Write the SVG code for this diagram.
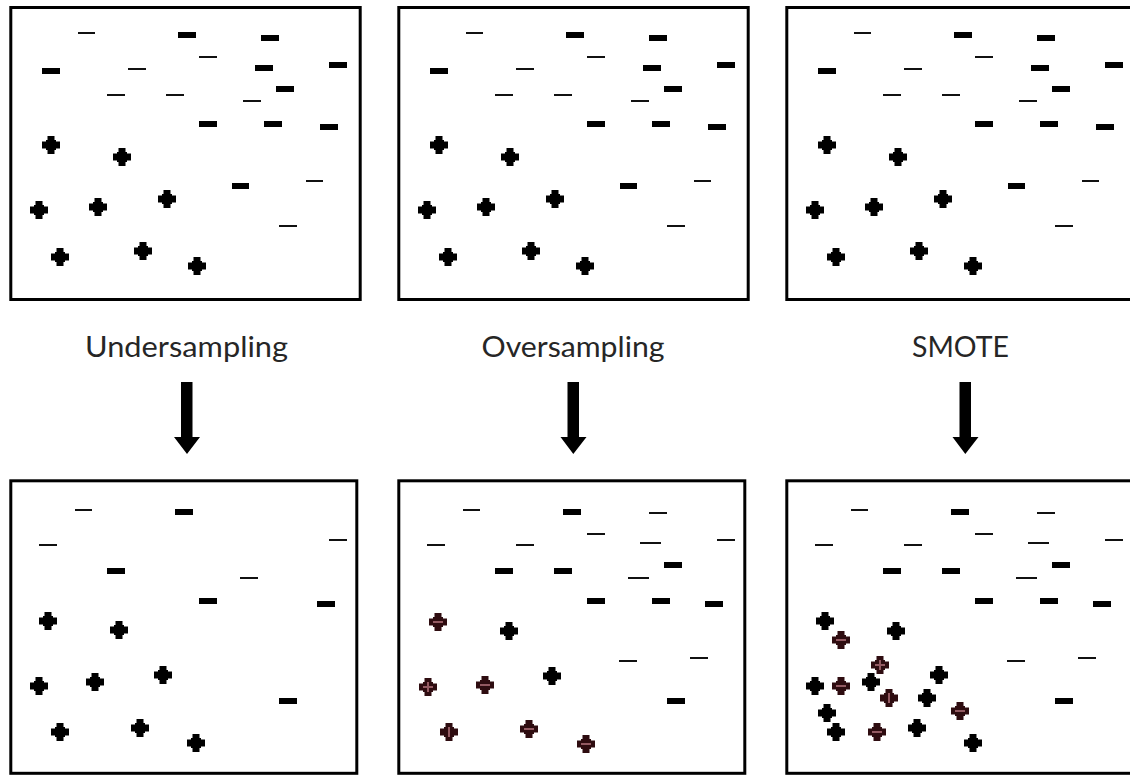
<svg xmlns="http://www.w3.org/2000/svg" xmlns:xlink="http://www.w3.org/1999/xlink" width="1130" height="776" viewBox="0 0 1130 776">
<style>
.frame{fill:#fff;stroke:#000;stroke-width:3}
.tn{fill:#111}
.tk{fill:#000}
.lbl{font-family:Lato,"Open Sans","Liberation Sans",sans-serif;font-size:29.5px;fill:#262626;text-anchor:middle}
.arrow{fill:#000}
.inner{stroke:#935a62;stroke-width:2;fill:none}
</style>
<defs>
<path id="plus" d="M-3.5,-9h7v4h1.5v1.5h4v7h-4v1.5h-1.5v4h-7v-4h-1.5v-1.5h-4v-7h4v-1.5h1.5z" fill="#000"/>
<path id="rplus" d="M-3.5,-9h7v4h1.5v1.5h4v7h-4v1.5h-1.5v4h-7v-4h-1.5v-1.5h-4v-7h4v-1.5h1.5z" fill="#2e0c10"/>
<g id="topSet">
<rect class="tn" x="78" y="32" width="17" height="2"/>
<rect class="tk" x="178" y="32" width="18" height="6"/>
<rect class="tk" x="261" y="35" width="18" height="6"/>
<rect class="tn" x="199" y="56" width="18" height="2"/>
<rect class="tk" x="42" y="68" width="18" height="6"/>
<rect class="tn" x="128" y="68" width="18" height="2"/>
<rect class="tk" x="255" y="65" width="18" height="6"/>
<rect class="tk" x="329" y="62" width="18" height="6"/>
<rect class="tk" x="276" y="86" width="18" height="6"/>
<rect class="tn" x="107" y="94" width="18" height="2"/>
<rect class="tn" x="166" y="94" width="18" height="2"/>
<rect class="tn" x="243" y="100" width="18" height="2"/>
<rect class="tk" x="199" y="121" width="18" height="6"/>
<rect class="tk" x="264" y="121" width="18" height="6"/>
<rect class="tk" x="320" y="124" width="18" height="6"/>
<rect class="tk" x="232" y="183" width="17" height="6"/>
<rect class="tn" x="306" y="180" width="17" height="2"/>
<rect class="tn" x="279" y="225" width="18" height="2"/>
<use xlink:href="#plus" x="51" y="145"/>
<use xlink:href="#plus" x="122" y="157"/>
<use xlink:href="#plus" x="39" y="210"/>
<use xlink:href="#plus" x="98" y="207"/>
<use xlink:href="#plus" x="167" y="199"/>
<use xlink:href="#plus" x="60" y="257"/>
<use xlink:href="#plus" x="143" y="251"/>
<use xlink:href="#plus" x="197" y="266"/>
</g>
<g id="botMinus">
<rect class="tn" x="463" y="509" width="17" height="2"/>
<rect class="tk" x="563" y="509" width="18" height="6"/>
<rect class="tn" x="649" y="512" width="18" height="2"/>
<rect class="tn" x="587" y="533" width="18" height="2"/>
<rect class="tn" x="427" y="544" width="18" height="2"/>
<rect class="tn" x="516" y="544" width="18" height="2"/>
<rect class="tn" x="640" y="542" width="21" height="2"/>
<rect class="tn" x="717" y="539" width="18" height="2"/>
<rect class="tk" x="664" y="562" width="18" height="6"/>
<rect class="tk" x="495" y="568" width="18" height="6"/>
<rect class="tk" x="554" y="568" width="18" height="6"/>
<rect class="tn" x="628" y="577" width="21" height="2"/>
<rect class="tk" x="587" y="598" width="18" height="6"/>
<rect class="tk" x="652" y="598" width="18" height="6"/>
<rect class="tk" x="705" y="601" width="18" height="6"/>
<rect class="tn" x="619" y="660" width="18" height="2"/>
<rect class="tn" x="690" y="657" width="18" height="2"/>
<rect class="tk" x="667" y="698" width="18" height="6"/>
</g>
</defs>

<g id="panel-original-1">
<rect class="frame" x="10.8" y="7.5" width="349.4" height="292"/>
<use xlink:href="#topSet"/>
</g>
<g id="panel-original-2">
<rect class="frame" x="398.8" y="7.5" width="349.4" height="292"/>
<use xlink:href="#topSet" transform="translate(388,0)"/>
</g>
<g id="panel-original-3">
<rect class="frame" x="786.8" y="7.5" width="349.4" height="292"/>
<use xlink:href="#topSet" transform="translate(776,0)"/>
</g>

<g id="labels">
<text class="lbl" x="186.5" y="357" textLength="203" lengthAdjust="spacingAndGlyphs">Undersampling</text>
<text class="lbl" x="573" y="357" textLength="183" lengthAdjust="spacingAndGlyphs">Oversampling</text>
<text class="lbl" x="960.5" y="357" textLength="97" lengthAdjust="spacingAndGlyphs">SMOTE</text>
</g>

<g id="connectors">
<polygon class="arrow" points="181,382 192.5,382 192.5,437 200,437 187,454 174,437 181,437"/>
<polygon class="arrow" points="567.5,382 579,382 579,437 586.5,437 573.3,454 560.5,437 567.5,437"/>
<polygon class="arrow" points="959.5,382 971,382 971,437 978.5,437 965.3,454 952.5,437 959.5,437"/>
</g>

<g id="panel-undersampling">
<rect class="frame" x="10.8" y="480.8" width="346" height="292.5"/>
<rect class="tn" x="75" y="509" width="17" height="2"/>
<rect class="tk" x="175" y="509" width="18" height="6"/>
<rect class="tn" x="39" y="544" width="18" height="2"/>
<rect class="tn" x="329" y="539" width="18" height="2"/>
<rect class="tk" x="107" y="568" width="18" height="6"/>
<rect class="tn" x="240" y="577" width="18" height="2"/>
<rect class="tk" x="199" y="598" width="18" height="6"/>
<rect class="tk" x="317" y="601" width="18" height="6"/>
<rect class="tk" x="279" y="698" width="18" height="6"/>
<use xlink:href="#plus" x="48" y="621"/>
<use xlink:href="#plus" x="119" y="630"/>
<use xlink:href="#plus" x="39" y="686"/>
<use xlink:href="#plus" x="95" y="682"/>
<use xlink:href="#plus" x="163" y="675"/>
<use xlink:href="#plus" x="60" y="732"/>
<use xlink:href="#plus" x="140" y="728"/>
<use xlink:href="#plus" x="196" y="743"/>
</g>

<g id="panel-oversampling">
<rect class="frame" x="398.8" y="480.8" width="346" height="292.5"/>
<use xlink:href="#botMinus"/>
<use xlink:href="#plus" x="509" y="631"/>
<use xlink:href="#plus" x="552" y="676"/>
<use xlink:href="#rplus" x="438" y="622"/><path class="inner" d="M433,622h10"/>
<use xlink:href="#rplus" x="428" y="687"/><path class="inner" d="M423,687h10M428,682v10"/>
<use xlink:href="#rplus" x="485" y="685"/><path class="inner" d="M480,685h10"/>
<use xlink:href="#rplus" x="449" y="732"/><path class="inner" d="M449,727v10"/>
<use xlink:href="#rplus" x="529" y="729"/><path class="inner" d="M524,729h10"/>
<use xlink:href="#rplus" x="586" y="744"/><path class="inner" d="M581,744h10"/>
</g>

<g id="panel-smote">
<rect class="frame" x="786.8" y="480.8" width="346" height="292.5"/>
<use xlink:href="#botMinus" transform="translate(388,0)"/>
<use xlink:href="#plus" x="825" y="621"/>
<use xlink:href="#plus" x="896" y="631"/>
<use xlink:href="#plus" x="815" y="686"/>
<use xlink:href="#plus" x="871" y="682"/>
<use xlink:href="#plus" x="939" y="675"/>
<use xlink:href="#plus" x="927" y="698"/>
<use xlink:href="#plus" x="827" y="713"/>
<use xlink:href="#plus" x="836" y="732"/>
<use xlink:href="#plus" x="917" y="728"/>
<use xlink:href="#plus" x="973" y="743"/>
<use xlink:href="#rplus" x="841" y="640"/><path class="inner" d="M836,640h10"/>
<use xlink:href="#rplus" x="880" y="665"/><path class="inner" d="M875,665h10M880,660v10"/>
<use xlink:href="#rplus" x="841" y="686"/><path class="inner" d="M836,686h10"/>
<use xlink:href="#rplus" x="889" y="698"/><path class="inner" d="M889,693v10"/>
<use xlink:href="#rplus" x="960" y="711"/><path class="inner" d="M955,711h10"/>
<use xlink:href="#rplus" x="877" y="732"/><path class="inner" d="M872,732h10"/>
</g>
</svg>
